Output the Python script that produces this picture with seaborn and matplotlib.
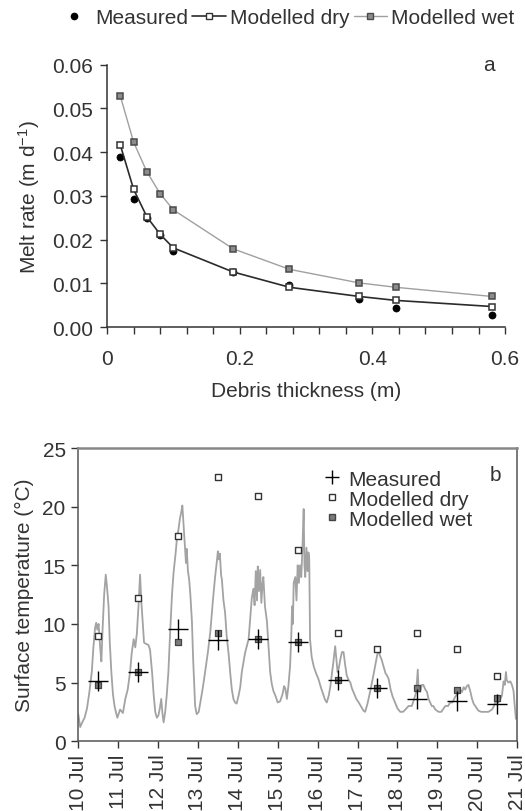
import matplotlib
matplotlib.use('Agg')
import matplotlib.pyplot as plt
import matplotlib.dates as mdates
from matplotlib.lines import Line2D
from matplotlib.ticker import FormatStrFormatter
import numpy as np
import pandas as pd
import seaborn as sns

# panel a: melt rate vs debris thickness
thickness = [0.02, 0.04, 0.06, 0.08, 0.10, 0.19, 0.275, 0.38, 0.435, 0.58]
melt_measured = [0.0390, 0.0294, 0.0250, 0.0210, 0.0175, 0.0125, 0.0097, 0.0065, 0.0043, 0.0028]
melt_dry = [0.0416, 0.0315, 0.0252, 0.0212, 0.0181, 0.0126, 0.0091, 0.0070, 0.0061, 0.0047]
melt_wet = [0.0528, 0.0423, 0.0355, 0.0305, 0.0268, 0.0179, 0.0132, 0.0101, 0.0091, 0.0070]

# panel b: surface temperature record (days after 10 Jul 00:00)
temp_days = [
    0.00, 0.05, 0.10, 0.16, 0.22, 0.28, 0.34, 0.38, 0.42, 0.45, 0.48, 0.51, 0.55, 0.58, 0.61, 0.65,
    0.69, 0.72, 0.76, 0.79, 0.83, 0.87, 0.91, 0.95, 0.98, 1.05, 1.12, 1.18, 1.24, 1.30, 1.34, 1.39,
    1.43, 1.47, 1.51, 1.55, 1.58, 1.61, 1.65, 1.70, 1.76, 1.80, 1.85, 1.89, 1.93, 1.97, 2.01, 2.05,
    2.08, 2.11, 2.14, 2.18, 2.22, 2.26, 2.30, 2.35, 2.39, 2.44, 2.48, 2.51, 2.55, 2.58, 2.61, 2.64,
    2.67, 2.70, 2.72, 2.75, 2.78, 2.81, 2.85, 2.88, 2.91, 2.93, 2.97, 3.02, 3.06, 3.12, 3.18, 3.25,
    3.31, 3.37, 3.43, 3.47, 3.50, 3.52, 3.55, 3.58, 3.60, 3.64, 3.68, 3.72, 3.77, 3.81, 3.85, 3.89,
    3.93, 3.97, 4.02, 4.06, 4.10, 4.18, 4.27, 4.31, 4.35, 4.39, 4.42, 4.45, 4.48, 4.50, 4.53, 4.56,
    4.59, 4.62, 4.64, 4.68, 4.73, 4.77, 4.81, 4.85, 4.89, 4.95, 5.00, 5.06, 5.12, 5.16, 5.19, 5.23,
    5.27, 5.31, 5.34, 5.36, 5.38, 5.40, 5.44, 5.47, 5.50, 5.53, 5.56, 5.59, 5.62, 5.65, 5.67, 5.69,
    5.72, 5.75, 5.77, 5.79, 5.81, 5.85, 5.90, 5.96, 6.02, 6.08, 6.15, 6.19, 6.23, 6.28, 6.32, 6.36,
    6.40, 6.44, 6.47, 6.50, 6.53, 6.57, 6.61, 6.65, 6.69, 6.73, 6.78, 6.82, 6.86, 6.92, 6.97, 7.03,
    7.10, 7.15, 7.19, 7.25, 7.32, 7.38, 7.44, 7.49, 7.53, 7.56, 7.60, 7.65, 7.70, 7.74, 7.78, 7.83,
    7.88, 7.94, 8.00, 8.07, 8.14, 8.20, 8.28, 8.36, 8.42, 8.47, 8.51, 8.53, 8.57, 8.61, 8.65, 8.70,
    8.74, 8.78, 8.82, 8.86, 8.90, 8.95, 9.03, 9.10, 9.16, 9.20, 9.27, 9.32, 9.38, 9.45, 9.50, 9.57,
    9.62, 9.66, 9.70, 9.74, 9.78, 9.83, 9.87, 9.91, 9.95, 10.03, 10.10, 10.20, 10.28, 10.37, 10.42,
    10.45, 10.53, 10.58, 10.62, 10.66, 10.69, 10.72, 10.74, 10.78, 10.83, 10.87, 10.91, 10.94, 10.97]
temp_values = [
    2.3, 1.2, 1.6, 2.0, 2.8, 4.2, 5.9, 8.0, 9.6, 10.1, 9.5, 10.0, 8.0, 6.8, 9.5, 12.5,
    14.2, 13.2, 11.5, 8.5, 5.9, 4.0, 3.0, 2.4, 2.0, 2.7, 2.4, 3.6, 4.4, 5.9, 7.5, 8.7,
    8.0, 9.2, 11.5, 14.2, 12.0, 10.5, 8.4, 8.3, 8.2, 7.8, 5.9, 4.0, 2.5, 2.0, 2.2, 2.9,
    3.6, 2.4, 1.6, 2.5, 4.0, 5.9, 9.0, 12.5, 14.4, 16.0, 17.5, 18.0, 19.0, 19.5, 20.1, 18.5,
    17.0, 15.2, 16.4, 14.5, 13.8, 12.5, 10.2, 7.0, 4.5, 3.0, 2.3, 2.5, 3.3, 4.5, 5.9, 7.6,
    9.3, 11.8, 14.0, 15.2, 16.2, 15.5, 16.0, 14.2, 13.8, 12.0, 11.0, 9.0, 7.4, 5.8, 4.4, 3.6,
    3.3, 3.2, 3.9, 4.6, 5.9, 7.5, 8.7, 10.5, 12.2, 13.0, 11.6, 14.5, 12.0, 14.9, 12.8, 14.6,
    11.8, 13.5, 14.0, 11.5, 10.2, 8.0, 5.9, 4.9, 4.3, 3.8, 3.3, 3.4, 4.0, 4.7, 4.5, 3.6,
    4.8, 6.4, 9.0, 11.5, 10.0, 13.5, 14.0, 12.0, 15.0, 13.5, 15.0, 14.0, 16.5, 19.8, 15.0, 14.0,
    16.5, 14.5, 16.1, 15.5, 8.7, 7.2, 6.4, 5.8, 5.3, 4.6, 3.9, 3.5, 3.3, 3.9, 4.7, 5.8,
    6.9, 8.1, 7.0, 5.9, 6.2, 7.0, 7.6, 7.6, 6.5, 5.6, 5.2, 5.0, 4.5, 4.0, 3.6, 3.3,
    2.9, 2.6, 2.5, 3.2, 4.3, 5.3, 6.4, 7.3, 7.8, 7.3, 7.0, 6.4, 5.8, 5.6, 5.3, 4.4,
    3.8, 3.3, 2.8, 2.5, 2.5, 2.7, 3.0, 3.0, 3.6, 4.2, 6.1, 4.4, 4.2, 4.8, 4.8, 4.4,
    4.2, 3.6, 3.3, 3.0, 3.0, 2.7, 2.5, 2.5, 2.8, 3.0, 3.0, 3.3, 3.3, 3.8, 4.0, 4.4,
    4.2, 4.6, 4.4, 4.7, 4.8, 4.2, 3.6, 3.2, 3.0, 2.6, 2.5, 2.5, 2.5, 2.7, 3.0,
    3.3, 3.3, 3.6, 3.9, 5.1, 4.8, 5.9, 5.2, 5.0, 5.1, 4.8, 4.3, 3.0, 1.9]

# daily values at midday
point_days = [0.5, 1.5, 2.5, 3.5, 4.5, 5.5, 6.5, 7.5, 8.5, 9.5, 10.5]
surf_measured = [5.1, 5.9, 9.6, 8.6, 8.7, 8.5, 5.2, 4.5, 3.6, 3.4, 3.2]
surf_dry = [9.0, 12.2, 17.5, 22.5, 20.9, 16.3, 9.2, 7.85, 9.2, 7.9, 5.6]
surf_wet = [4.8, 5.9, 8.5, 9.2, 8.7, 8.5, 5.2, 4.5, 4.5, 4.4, 3.7]

sns.set_style('ticks')
plt.rcParams['font.family'] = ['Liberation Sans', 'DejaVu Sans']
plt.rcParams['mathtext.fontset'] = 'custom'
plt.rcParams['mathtext.rm'] = 'Liberation Sans'
plt.rcParams['mathtext.it'] = 'Liberation Sans:italic'
plt.rcParams['font.size'] = 15
txt = '#333333'
plt.rcParams['text.color'] = txt
plt.rcParams['axes.labelcolor'] = txt
plt.rcParams['xtick.color'] = txt
plt.rcParams['ytick.color'] = txt

fig = plt.figure(figsize=(5.25, 8.12), dpi=100)
ax1 = fig.add_axes([0.204, 0.596, 0.758, 0.323])
ax2 = fig.add_axes([0.149, 0.086, 0.836, 0.361])

# ---- panel a ----
sns.scatterplot(x=thickness, y=melt_measured, color='black', s=26, edgecolor='black',
                linewidth=0.5, ax=ax1, zorder=3)
sns.lineplot(x=thickness, y=melt_dry, color='#2b2b2b', lw=1.2, marker='s', markersize=5,
             markerfacecolor='white', markeredgecolor='#333333', markeredgewidth=1.1,
             ax=ax1, zorder=4)
sns.lineplot(x=thickness, y=melt_wet, color='#a0a0a0', lw=1.0, marker='s', markersize=5,
             markerfacecolor='#8c8c8c', markeredgecolor='#4a4a4a', markeredgewidth=1.1,
             ax=ax1, zorder=4)
ax1.set_xlim(0, 0.6)
ax1.set_ylim(0, 0.06)
ax1.set_xticks([0, 0.2, 0.4, 0.6])
ax1.set_xticklabels(['0', '0.2', '0.4', '0.6'])
ax1.set_xticks(np.arange(0, 0.601, 0.04), minor=True)
ax1.set_yticks(np.arange(0, 0.061, 0.01))
ax1.yaxis.set_major_formatter(FormatStrFormatter('%.2f'))
ax1.tick_params(which='both', direction='out', length=5, width=1)
ax1.tick_params(axis='x', pad=11)
ax1.tick_params(axis='y', pad=5)
ax1.set_xlabel('Debris thickness (m)', labelpad=9)
ax1.set_ylabel('Melt rate (m d$^{-1}$)', labelpad=7)
sns.despine(ax=ax1)
for s in ['left', 'bottom']:
    ax1.spines[s].set_color('#333333')
    ax1.spines[s].set_linewidth(1.1)
ax1.text(0.96, 1.0, 'a', transform=ax1.transAxes, ha='center', va='center')

handles_a = [
    Line2D([], [], ls='none', marker='o', color='black', markersize=4.5),
    Line2D([], [], color='#2b2b2b', lw=1.2, marker='s', markersize=5,
           markerfacecolor='white', markeredgecolor='#333333'),
    Line2D([], [], color='#a0a0a0', lw=1.0, marker='s', markersize=5,
           markerfacecolor='#8c8c8c', markeredgecolor='#4a4a4a'),
]
fig.legend(handles_a, ['Measured', 'Modelled dry', 'Modelled wet'], ncol=3,
           loc='center', bbox_to_anchor=(0.545, 0.977), frameon=False,
           handlelength=1.6, handletextpad=0.2, columnspacing=0.2, borderaxespad=0)

# ---- panel b ----
base = pd.Timestamp('2000-07-10')
t_line = base + pd.to_timedelta(temp_days, unit='D')
t_pts = base + pd.to_timedelta(point_days, unit='D')

sns.lineplot(x=t_line, y=temp_values, color='#a3a3a3', lw=1.3, ax=ax2, zorder=2)
sns.scatterplot(x=t_pts, y=surf_measured, marker='+', s=190, color='black',
                linewidth=1.0, ax=ax2, zorder=5)
sns.scatterplot(x=t_pts, y=surf_dry, marker='s', s=22, facecolor='white',
                edgecolor='#333333', linewidth=1.0, ax=ax2, zorder=4)
sns.scatterplot(x=t_pts, y=surf_wet, marker='s', s=16, facecolor='#7a7a7a',
                edgecolor='#444444', linewidth=0.9, ax=ax2, zorder=4)

ax2.set_xlim(base, base + pd.Timedelta(days=11))
ax2.set_ylim(0, 25)
ax2.set_yticks([0, 5, 10, 15, 20, 25])
ax2.xaxis.set_major_locator(mdates.DayLocator())
ax2.xaxis.set_major_formatter(mdates.DateFormatter('%d %b'))
ax2.tick_params(axis='x', rotation=90)
ax2.tick_params(direction='out', length=5, width=1, pad=4)
ax2.set_xlabel('')
ax2.set_ylabel('Surface temperature (°C)', labelpad=6)
for s in ax2.spines.values():
    s.set_color('#555555')
    s.set_linewidth(1.1)
ax2.spines['top'].set_color('#888888')
ax2.spines['top'].set_linewidth(1.8)
ax2.text(0.95, 0.91, 'b', transform=ax2.transAxes, ha='center', va='center')

handles_b = [
    Line2D([], [], ls='none', marker='+', color='black', markersize=10, mew=1.0),
    Line2D([], [], ls='none', marker='s', markersize=4.5, markerfacecolor='white',
           markeredgecolor='#333333'),
    Line2D([], [], ls='none', marker='s', markersize=4, markerfacecolor='#7a7a7a',
           markeredgecolor='#444444'),
]
ax2.legend(handles_b, ['Measured', 'Modelled dry', 'Modelled wet'], loc='upper left',
           bbox_to_anchor=(0.54, 0.955), frameon=False, handlelength=0.8,
           handletextpad=0.4, labelspacing=0.05, borderaxespad=0)

fig.savefig('out.png', dpi=100)
